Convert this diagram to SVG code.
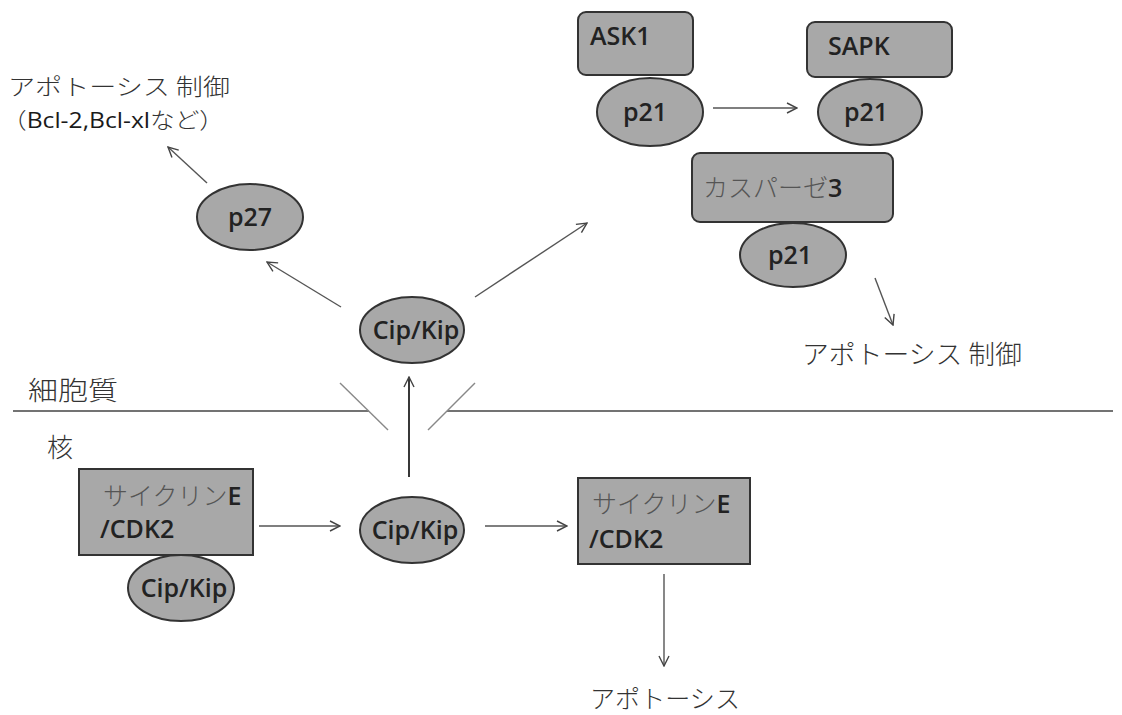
<svg xmlns="http://www.w3.org/2000/svg" width="1122" height="715" viewBox="0 0 1122 715">
<defs>
<style>
.jp{font-family:"Noto Sans CJK JP",sans-serif;font-weight:300;fill:#333;font-size:25px}
.jpl{font-family:"Noto Sans CJK JP",sans-serif;font-weight:300;fill:#555}
.lb{font-family:"Open Sans","Noto Sans CJK JP",sans-serif;font-weight:600;fill:#222;font-size:25px}
.node{fill:#a8a8a8;stroke:#333;stroke-width:2}
.conn{stroke:#555;stroke-width:1.4;fill:none;marker-end:url(#ah)}
.mem{stroke:#444;stroke-width:1.6;fill:none}
.pore{stroke:#888;stroke-width:1.4;fill:none}
</style>
<marker id="ah" viewBox="0 0 12 12" refX="11" refY="6" markerWidth="12" markerHeight="12" markerUnits="userSpaceOnUse" orient="auto">
<path d="M1,1 L11,6 L1,11" fill="none" stroke="#444" stroke-width="1.4"/>
</marker>
</defs>
<rect width="1122" height="715" fill="#fff"/>

<g id="membrane">
<line class="mem" x1="13" y1="411" x2="369" y2="411"/>
<line class="mem" x1="447" y1="411" x2="1113" y2="411"/>
<line class="pore" x1="340" y1="383" x2="388" y2="430"/>
<line class="pore" x1="475" y1="383" x2="428" y2="430"/>
</g>

<g id="labels">
<text class="jp" x="8" y="95" textLength="222" lengthAdjust="spacingAndGlyphs" style="font-size:23px">アポトーシス 制御</text>
<text class="jp" x="2" y="128" textLength="222" lengthAdjust="spacingAndGlyphs" style="font-size:22px">（<tspan style="font-family:'Open Sans',sans-serif;font-weight:400;fill:#1a1a1a">Bcl-2,Bcl-xl</tspan>など）</text>
<text class="jp" x="28" y="400" textLength="90" lengthAdjust="spacingAndGlyphs" style="font-size:26px">細胞質</text>
<text class="jp" x="47" y="457" style="font-size:26px">核</text>
<text class="jp" x="802" y="364" textLength="220" lengthAdjust="spacingAndGlyphs" style="font-size:26px">アポトーシス 制御</text>
<text class="jp" x="590" y="708" textLength="150" lengthAdjust="spacingAndGlyphs">アポトーシス</text>
</g>

<g id="connectors">
<line class="conn" x1="259" y1="526" x2="340" y2="526"/>
<line class="conn" x1="485" y1="526" x2="567" y2="526"/>
<line class="conn" x1="409" y1="477" x2="409" y2="377" style="stroke:#222;stroke-width:1.8"/>
<line class="conn" x1="341" y1="307" x2="267" y2="262"/>
<line class="conn" x1="207" y1="183" x2="168" y2="147"/>
<line class="conn" x1="475" y1="297" x2="587" y2="223"/>
<line class="conn" x1="713" y1="108" x2="797" y2="108"/>
<line class="conn" x1="875" y1="278" x2="893" y2="325"/>
<line class="conn" x1="664" y1="574" x2="664" y2="666"/>
</g>

<g id="cyclinE-left">
<rect class="node" x="79" y="469" width="174" height="86"/>
<text x="103" y="505" style="font-size:25px"><tspan class="jpl">サイクリン</tspan><tspan class="lb">E</tspan></text>
<text class="lb" x="100" y="538">/CDK2</text>
</g>
<g id="cipkip-left">
<ellipse class="node" cx="181" cy="588" rx="53" ry="33"/>
<text class="lb" x="184" y="597" text-anchor="middle">Cip/Kip</text>
</g>

<g id="cipkip-mid">
<ellipse class="node" cx="412" cy="530" rx="52" ry="33"/>
<text class="lb" x="415" y="539" text-anchor="middle">Cip/Kip</text>
</g>

<g id="cyclinE-right">
<rect class="node" x="578" y="478" width="172" height="86"/>
<text x="592" y="513" style="font-size:25px"><tspan class="jpl">サイクリン</tspan><tspan class="lb">E</tspan></text>
<text class="lb" x="589" y="548">/CDK2</text>
</g>

<g id="cipkip-upper">
<ellipse class="node" cx="412" cy="330" rx="52" ry="33"/>
<text class="lb" x="416" y="339" text-anchor="middle">Cip/Kip</text>
</g>

<g id="p27">
<ellipse class="node" cx="250" cy="217" rx="53" ry="33"/>
<text class="lb" x="250" y="226" text-anchor="middle">p27</text>
</g>

<g id="ask1">
<rect class="node" x="578" y="12" width="115" height="63" rx="8"/>
<text class="lb" x="590" y="45">ASK1</text>
</g>
<g id="p21-ask1">
<ellipse class="node" cx="650" cy="112" rx="53" ry="34"/>
<text class="lb" x="645" y="121" text-anchor="middle">p21</text>
</g>

<g id="sapk">
<rect class="node" x="807" y="22" width="145" height="55" rx="8"/>
<text class="lb" x="828" y="55">SAPK</text>
</g>
<g id="p21-sapk">
<ellipse class="node" cx="870" cy="112" rx="52" ry="33"/>
<text class="lb" x="866" y="121" text-anchor="middle">p21</text>
</g>

<g id="caspase3">
<rect class="node" x="692" y="153" width="201" height="69" rx="8"/>
<text x="703" y="197" style="font-size:25px"><tspan class="jpl">カスパーゼ</tspan><tspan class="lb">3</tspan></text>
</g>
<g id="p21-caspase">
<ellipse class="node" cx="793" cy="255" rx="53" ry="32"/>
<text class="lb" x="790" y="264" text-anchor="middle">p21</text>
</g>
</svg>
